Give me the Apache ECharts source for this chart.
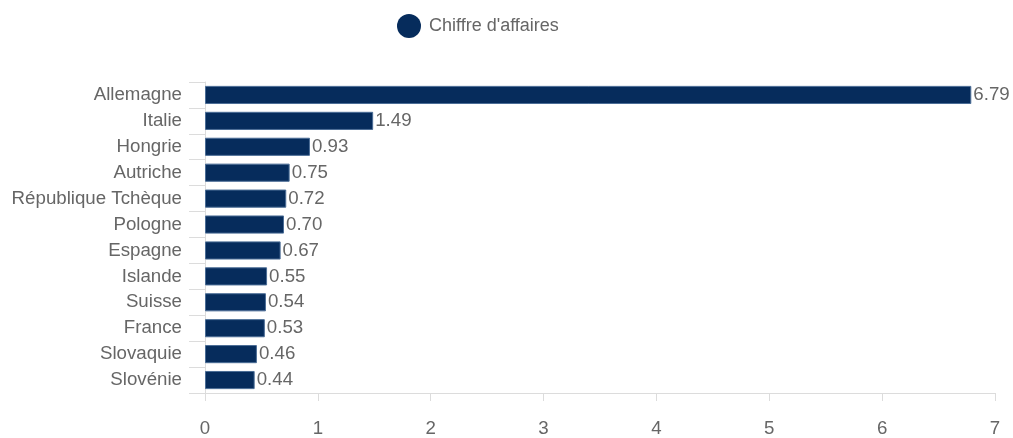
<!DOCTYPE html>
<html>
<head>
<meta charset="utf-8">
<script src="https://cdn.jsdelivr.net/npm/echarts@6/dist/echarts.min.js"></script>
<style>
  html, body { margin: 0; padding: 0; background: #fff; }
  #chart { width: 1013px; height: 438px; }
</style>
</head>
<body>
<div id="chart"></div>
<script>
// Chiffre d'affaires par pays
const seriesName = "Chiffre d'affaires";
const countries = ['Allemagne', 'Italie', 'Hongrie', 'Autriche', 'République Tchèque', 'Pologne',
  'Espagne', 'Islande', 'Suisse', 'France', 'Slovaquie', 'Slovénie'];
const revenue = [6.79, 1.49, 0.93, 0.75, 0.72, 0.70, 0.67, 0.55, 0.54, 0.53, 0.46, 0.44];
const xTicks = [0, 1, 2, 3, 4, 5, 6, 7];

const barColor = '#062c5c';
const textColor = '#666';
const lineColor = '#dcdcdc';
const font = '"Liberation Sans", Arial, Helvetica, sans-serif';
const fontSize = 18.7;

const chart = echarts.init(document.getElementById('chart'));
chart.setOption({
  animation: false,
  textStyle: { fontFamily: font },
  legend: {
    data: [{ name: seriesName, icon: 'circle', itemStyle: { borderWidth: 0 } }],
    top: 14,
    left: 397,
    padding: 0,
    itemWidth: 24,
    itemHeight: 24,
    itemGap: 8,
    textStyle: { color: textColor, fontSize: 18, fontFamily: font, padding: [0, 0, 0, 3] }
  },
  grid: { left: 205, right: 18, top: 82, bottom: 44, containLabel: false },
  xAxis: {
    type: 'value',
    min: xTicks[0],
    max: xTicks[xTicks.length - 1],
    interval: 1,
    axisLine: { show: true, lineStyle: { color: lineColor } },
    axisTick: { show: true, length: 8, lineStyle: { color: lineColor } },
    axisLabel: { color: textColor, fontSize: fontSize, margin: 26, fontFamily: font },
    splitLine: { show: false }
  },
  yAxis: {
    type: 'category',
    inverse: true,
    data: countries,
    axisLine: { show: true, lineStyle: { color: lineColor } },
    axisTick: { show: true, length: 16, lineStyle: { color: lineColor } },
    axisLabel: { color: textColor, fontSize: fontSize, margin: 23, fontFamily: font, padding: [2, 0, 0, 0] },
    splitLine: { show: false }
  },
  series: [{
    name: seriesName,
    type: 'bar',
    data: revenue,
    barCategoryGap: '30%',
    itemStyle: { color: barColor, borderColor: '#4b6d96', borderWidth: 1 },
    label: {
      show: true,
      position: 'right',
      distance: 2,
      color: textColor,
      fontSize: fontSize,
      fontFamily: font,
      formatter: p => p.value.toFixed(2)
    }
  }]
});
</script>
</body>
</html>
